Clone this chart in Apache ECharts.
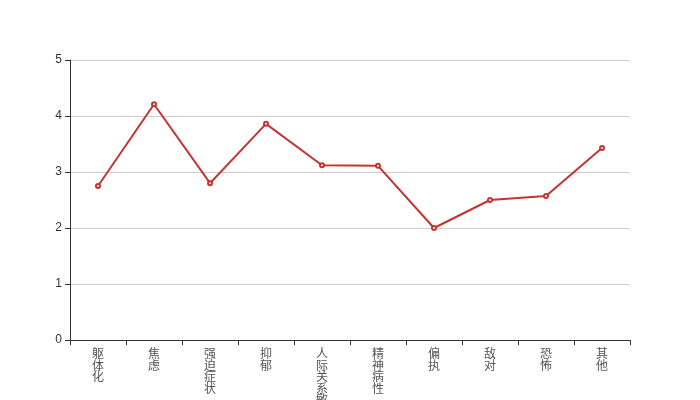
<!DOCTYPE html>
<html><head><meta charset="utf-8">
<script src="https://cdn.jsdelivr.net/npm/echarts@6/dist/echarts.min.js"></script>
<style>html,body{margin:0;padding:0;background:#fff}#c{width:700px;height:400px}</style>
</head><body><div id="c"></div>
<script>
var categories = ['躯体化','焦虑','强迫症状','抑郁','人际关系敏感','精神病性','偏执','敌对','恐怖','其他'];
var values = [2.75, 4.21, 2.80, 3.86, 3.12, 3.11, 2.00, 2.50, 2.57, 3.43];
var chart = echarts.init(document.getElementById('c'));
chart.setOption({
  animation: false,
  grid: {left: 70, right: 70, top: 60, bottom: 60, containLabel: false, outerBoundsMode: 'none'},
  xAxis: {
    type: 'category', data: categories, boundaryGap: true,
    axisLine: {lineStyle: {color: '#333'}},
    axisTick: {show: true, length: 5, lineStyle: {color: '#333'}},
    axisLabel: {
      interval: 0, color: '#555', fontSize: 12, lineHeight: 11.5,
      fontFamily: 'Noto Sans CJK SC',
      formatter: function (v) { return v.split('').join('\n'); }
    }
  },
  yAxis: {
    type: 'value', min: 0, max: 5, interval: 1,
    axisLine: {show: true, lineStyle: {color: '#333'}},
    axisTick: {show: true, lineStyle: {color: '#333'}},
    axisLabel: {color: '#333', fontSize: 12},
    splitLine: {lineStyle: {color: '#ccc'}}
  },
  series: [{
    type: 'line', data: values,
    symbol: 'emptyCircle', symbolSize: 4,
    lineStyle: {color: '#c23531', width: 2},
    itemStyle: {color: '#c23531'}
  }]
});
</script></body></html>
